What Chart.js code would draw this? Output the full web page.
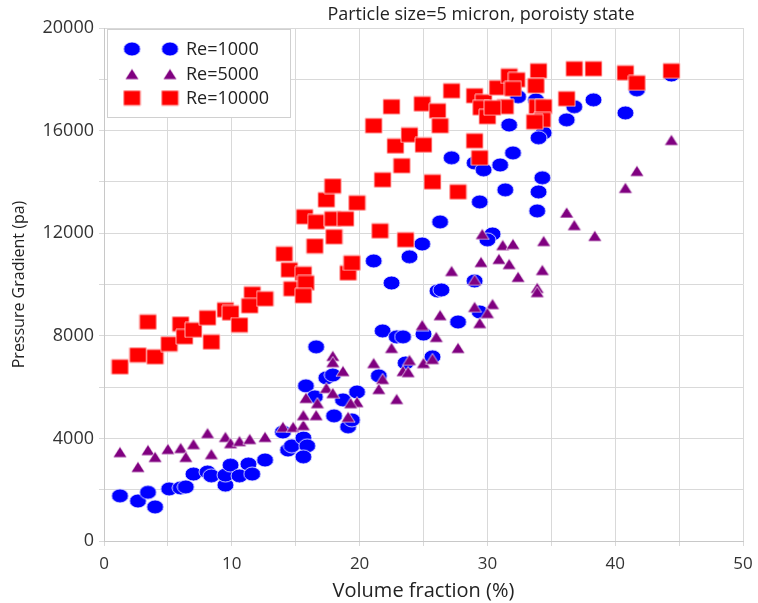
<!DOCTYPE html>
<html>
<head>
<meta charset="utf-8">
<script src="https://cdn.jsdelivr.net/npm/chart.js@4.4.1/dist/chart.umd.min.js"></script>
<style>
    html, body { margin: 0; padding: 0; background: #fff; }
    #wrap { width: 758px; height: 603px; position: relative; }
</style>
</head>
<body>
<div id="wrap"><canvas id="canvasId"></canvas></div>
<script>
// values
const seriesNames = ['Re=1000', 'Re=5000', 'Re=10000'];
const chartTitle = 'Particle size=5 micron, poroisty state';

const volFrac1000 = [1.25,2.66,3.44,4.0,5.1,6.0,6.4,7.0,8.1,8.4,9.5,9.5,9.9,10.6,11.3,11.6,12.6,14.0,14.4,14.7,15.6,15.9,15.6,15.8,16.6,16.5,17.4,17.9,18.7,19.8,18.0,19.1,19.4,21.1,22.5,23.9,24.9,26.3,26.1,26.4,27.7,21.8,22.9,23.4,25.0,21.5,23.6,25.7,29.0,29.4,29.4,27.2,29.0,29.7,30.4,30.0,31.0,31.4,32.0,31.7,32.4,33.8,34.4,34.0,34.3,34.0,33.9,36.8,36.2,38.3,40.8,41.7,44.4];
const pressure1000 = [1760,1560,1900,1330,2030,2070,2110,2610,2690,2540,2180,2570,2960,2540,3000,2610,3160,4250,3550,3710,4020,3710,3280,6050,7570,5620,6360,6470,5500,5810,4880,4450,4720,10920,10060,11080,11580,12440,9750,9790,8540,8190,7960,7960,8070,6440,6940,7180,10140,8930,13220,14940,14740,14470,11970,11740,14660,13690,15130,16220,17320,17200,15910,15720,14160,13610,12870,16930,16420,17200,16690,17590,18170];

const volFrac5000 = [1.25,2.66,3.44,4.0,5.0,6.0,6.4,7.0,8.1,8.4,9.5,9.9,10.6,11.4,12.6,14.0,14.8,15.6,15.6,16.6,15.8,16.7,17.9,17.9,18.7,17.4,17.9,19.8,19.3,19.1,21.1,21.8,21.5,22.9,22.5,23.9,23.4,23.8,25.0,25.7,24.9,26.0,26.3,27.7,27.2,29.0,29.0,29.4,29.5,29.6,30.9,31.2,32.0,31.7,32.4,34.4,34.3,33.9,33.9,30.4,30.0,36.2,36.8,38.4,40.8,41.7,44.4];
const pressure5000 = [3470,2890,3550,3280,3590,3630,3280,3780,4210,3390,4060,3820,3900,3980,4060,4450,4450,4520,4910,4910,5580,5380,7220,6980,6630,5970,5770,5420,5380,4840,6940,6320,5930,5540,7530,7060,6630,6590,6940,7100,8420,7960,8810,7530,10530,10180,9130,8500,10880,11970,11000,11540,11580,10800,10300,11700,10570,9870,9710,9240,8890,12810,12320,11900,13770,14430,15640];

const volFrac10000 = [1.25,2.66,3.44,4.0,5.1,6.0,6.3,7.0,8.1,8.4,9.5,9.9,10.6,11.6,11.4,12.6,14.1,14.5,15.6,14.7,15.8,15.6,16.5,15.7,16.6,17.9,18.9,17.4,17.9,19.8,18.0,19.1,19.4,21.6,23.6,21.1,22.5,21.8,22.8,23.3,23.9,25.0,24.9,26.1,26.3,25.7,27.7,27.2,29.0,29.7,29.5,30.0,29.0,29.4,30.8,31.7,32.3,32.0,34.0,33.8,31.4,30.4,33.9,34.4,34.3,33.7,36.2,36.8,38.3,40.8,41.7,44.4];
const pressure10000 = [6790,7250,8540,7180,7680,8460,7960,8230,8700,7760,9010,8890,8420,9630,9170,9440,11190,10570,10410,9830,10060,9560,11500,12640,12440,12560,12560,13300,13840,13180,11860,10450,10840,12090,11740,16190,16930,14080,15400,14630,15830,15440,17040,16770,16190,14000,13610,17550,17360,17120,16890,16540,15600,14940,17670,18130,17980,17630,18330,17750,16930,16890,16930,16930,16420,16340,17240,18410,18410,18250,17860,18330];

const toPoints = (xs, ys) => xs.map((x, i) => ({x: x, y: ys[i]}));

// marker images (the picture's markers are a bit wider than tall)
const makeMarker = (shape, w, h, fill, stroke) => {
    const c = document.createElement('canvas');
    c.width = w + 2;
    c.height = h + 2;
    const g = c.getContext('2d');
    g.fillStyle = fill;
    g.strokeStyle = stroke;
    g.lineWidth = 1;
    g.beginPath();
    if (shape === 'ellipse') {
        g.ellipse(c.width / 2, c.height / 2, w / 2, h / 2, 0, 0, Math.PI * 2);
    } else if (shape === 'rect') {
        g.rect(1, 1, w, h);
    } else {
        g.moveTo(c.width / 2, 1);
        g.lineTo(w + 1, h + 1);
        g.lineTo(1, h + 1);
        g.closePath();
    }
    g.fill();
    g.stroke();
    return c;
};

const blueDot = makeMarker('ellipse', 17, 14, '#0000ff', 'rgba(255,255,255,0.8)');
const purpleTri = makeMarker('tri', 14, 11, '#800080', 'rgba(255,255,255,0.7)');
const redSq = makeMarker('rect', 17, 15, '#ff0000', 'rgba(255,200,200,0.9)');
const markers = [blueDot, purpleTri, redSq];

const font = '"Open Sans", "Liberation Sans", sans-serif';

const decorPlugin = {
    id: 'decor',
    afterDraw(chart) {
        const ctx = chart.ctx;
        ctx.save();
        // title
        ctx.fillStyle = '#222';
        ctx.font = '18px ' + font;
        ctx.textAlign = 'center';
        ctx.textBaseline = 'middle';
        ctx.fillText(chartTitle, 481, 15);

        // legend box
        ctx.fillStyle = '#fff';
        ctx.fillRect(107, 29, 183, 88);
        ctx.strokeStyle = '#d0d0d0';
        ctx.lineWidth = 1;
        ctx.strokeRect(107.5, 29.5, 183, 88);
        const rows = [49, 74, 98];
        ctx.font = '18px ' + font;
        ctx.textAlign = 'left';
        ctx.fillStyle = '#222';
        seriesNames.forEach((name, i) => {
            const m = markers[i];
            ctx.drawImage(m, 132 - m.width / 2, rows[i] - m.height / 2);
            ctx.drawImage(m, 170 - m.width / 2, rows[i] - m.height / 2);
            ctx.fillText(name, 186, rows[i] + 1);
        });
        ctx.restore();
    }
};

const ctx = document.querySelector('#canvasId');

const config = {
    type: 'scatter',
    data: {
        datasets: [{
            label: seriesNames[0],
            data: toPoints(volFrac1000, pressure1000),
            pointStyle: blueDot,
            backgroundColor: '#0000ff',
            order: 3,
        }, {
            label: seriesNames[1],
            data: toPoints(volFrac5000, pressure5000),
            pointStyle: purpleTri,
            backgroundColor: '#800080',
            order: 2,
        }, {
            label: seriesNames[2],
            data: toPoints(volFrac10000, pressure10000),
            pointStyle: redSq,
            backgroundColor: '#ff0000',
            order: 1,
        }],
    },
    options: {
        responsive: true,
        maintainAspectRatio: false,
        animation: false,
        layout: {
            padding: {top: 28, right: 0, left: 0, bottom: 0}
        },
        scales: {
            x: {
                type: 'linear',
                position: 'bottom',
                min: 0,
                max: 50,
                afterFit: (scale) => {
                    scale.height = 62;
                    scale.paddingRight = 15;
                    scale.paddingLeft = 0;
                },
                grid: {color: '#d9d9d9', tickLength: 5, tickColor: '#d9d9d9'},
                border: {color: '#c8c8c8'},
                ticks: {
                    stepSize: 5,
                    padding: 8,
                    color: '#333',
                    font: {family: font, size: 17},
                    maxRotation: 0,
                    callback: (v) => (v % 10 === 0 ? v : ''),
                },
                title: {
                    display: true,
                    text: 'Volume fraction (%)',
                    color: '#222',
                    font: {family: font, size: 20},
                    padding: {top: 0, bottom: 0},
                },
            },
            y: {
                min: 0,
                max: 20000,
                afterFit: (scale) => { scale.width = 104; },
                grid: {color: '#d9d9d9', tickLength: 5, tickColor: '#d9d9d9'},
                border: {color: '#c8c8c8'},
                ticks: {
                    stepSize: 2000,
                    padding: 5,
                    color: '#333',
                    font: {family: font, size: 18},
                    callback: (v) => (v % 4000 === 0 ? v : ''),
                },
                title: {
                    display: true,
                    text: 'Pressure Gradient (pa)',
                    color: '#222',
                    font: {family: font, size: 16},
                    padding: {top: 10, bottom: 10},
                },
            },
        },
        plugins: {
            legend: {display: false},
            tooltip: {enabled: false},
        },
        elements: {
            point: {radius: 8, borderWidth: 0},
        },
    },
    plugins: [decorPlugin],
};

const chart = new Chart(ctx, config);
</script>
</body>
</html>
